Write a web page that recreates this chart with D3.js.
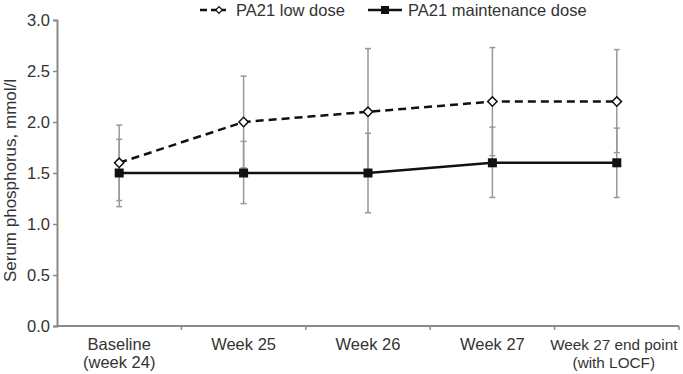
<!DOCTYPE html>
<html><head><meta charset="utf-8">
<script src="https://cdn.jsdelivr.net/npm/d3@7/dist/d3.min.js"></script>
<style>body{margin:0;background:#fff}text{font-family:"Liberation Sans",Arial,Helvetica,sans-serif}</style>
</head><body><svg id="c" width="683" height="374"></svg>
<script>
const categories = [["Baseline","(week 24)"],["Week 25"],["Week 26"],["Week 27"],["Week 27 end point","(with LOCF)"]];
const lowDose = [1.6, 2.0, 2.1, 2.2, 2.2];
const lowDoseUpper = [1.97, 2.45, 2.72, 2.73, 2.71];
const lowDoseLower = [1.23, 1.55, 1.48, 1.67, 1.70];
const maintDose = [1.5, 1.5, 1.5, 1.6, 1.6];
const maintUpper = [1.83, 1.81, 1.89, 1.95, 1.94];
const maintLower = [1.17, 1.20, 1.11, 1.26, 1.26];
const yTicks = [0, 0.5, 1.0, 1.5, 2.0, 2.5, 3.0];
const seriesNames = ["PA21 low dose", "PA21 maintenance dose"];

const FS = 16.5;
const svg = d3.select("#c");
const x = d3.scaleBand().domain(d3.range(categories.length)).range([57, 679]);
const y = d3.scaleLinear().domain([0, 3]).range([326, 20]);
const cx = i => x(i) + x.bandwidth()/2;
const axisColor = "#8a8a8a";

// y axis
const ya = svg.append("g").attr("transform","translate(57,0)")
  .call(d3.axisLeft(y).tickValues(yTicks).tickFormat(d3.format(".1f")).tickSize(4).tickPadding(3));
ya.select(".domain").attr("stroke",axisColor).attr("stroke-width",2);
ya.selectAll(".tick line").attr("stroke",axisColor).attr("stroke-width",1.5);
ya.selectAll(".tick text").attr("font-size",FS).attr("fill","#333").style("font-family","'Liberation Sans',Arial,sans-serif");

// x axis
const xa = svg.append("g").attr("transform","translate(0,326)");
xa.append("line").attr("x1",57).attr("x2",679).attr("stroke",axisColor).attr("stroke-width",2);
const bounds = d3.range(categories.length+1).map(i => i < categories.length ? x(i) : x(categories.length-1)+x.bandwidth());
xa.selectAll(".xt").data(bounds.slice(1)).join("line")
  .attr("x1",d=>d).attr("x2",d=>d).attr("y1",0).attr("y2",4).attr("stroke",axisColor).attr("stroke-width",1.5);
categories.forEach((lines,i)=>{
  const last = i === categories.length-1;
  const t = xa.append("text").attr("text-anchor","middle").attr("font-size",last ? 15.3 : FS).attr("fill","#333");
  lines.forEach((l,j)=> t.append("tspan").attr("x",cx(i) - (last ? 3 : 0)).attr("y",24 + j*18).text(l));
});

// y title
svg.append("text").attr("transform","translate(15.5,180.5) rotate(-90)").attr("text-anchor","middle")
  .attr("font-size",17).attr("fill","#333").text("Serum phosphorus, mmol/l");

// error bars
function errBars(upper, lower){
  const g = svg.append("g").attr("stroke","#999").attr("stroke-width",1.5);
  upper.forEach((u,i)=>{
    g.append("line").attr("x1",cx(i)).attr("x2",cx(i)).attr("y1",y(u)).attr("y2",y(lower[i]));
    [u, lower[i]].forEach(v=> g.append("line").attr("x1",cx(i)-3).attr("x2",cx(i)+3).attr("y1",y(v)).attr("y2",y(v)));
  });
}
errBars(lowDoseUpper, lowDoseLower);
errBars(maintUpper, maintLower);

const line = d3.line().x((d,i)=>cx(i)).y(d=>y(d));
svg.append("path").datum(maintDose).attr("d",line).attr("fill","none").attr("stroke","#111").attr("stroke-width",2.5);
svg.append("path").datum(lowDose).attr("d",line).attr("fill","none").attr("stroke","#111").attr("stroke-width",2.5).attr("stroke-dasharray","8,5");

const diamond = d3.symbol().type(d3.symbolSquare).size(44);
svg.selectAll(".sq").data(maintDose).join("rect")
  .attr("x",(d,i)=>cx(i)-4.5).attr("y",d=>y(d)-4.5).attr("width",9).attr("height",9).attr("fill","#111");
svg.selectAll(".dm").data(lowDose).join("path")
  .attr("d",diamond).attr("transform",(d,i)=>`translate(${cx(i)},${y(d)}) rotate(45)`)
  .attr("fill","#fff").attr("stroke","#111").attr("stroke-width",1.5);

// legend
const lg = svg.append("g");
lg.append("line").attr("x1",200).attr("x2",226).attr("y1",10).attr("y2",10).attr("stroke","#111").attr("stroke-width",2.5).attr("stroke-dasharray","7,4");
lg.append("path").attr("d",d3.symbol().type(d3.symbolSquare).size(22)).attr("transform","translate(219,10) rotate(45)").attr("fill","#fff").attr("stroke","#111").attr("stroke-width",1.2);
lg.append("text").attr("x",236).attr("y",15.5).attr("font-size",FS).attr("fill","#333").text(seriesNames[0]);
lg.append("line").attr("x1",368).attr("x2",402).attr("y1",10).attr("y2",10).attr("stroke","#111").attr("stroke-width",2.5);
lg.append("rect").attr("x",381).attr("y",6).attr("width",8).attr("height",8).attr("fill","#111");
lg.append("text").attr("x",408).attr("y",15.5).attr("font-size",FS).attr("fill","#333").text(seriesNames[1]);
</script></body></html>
